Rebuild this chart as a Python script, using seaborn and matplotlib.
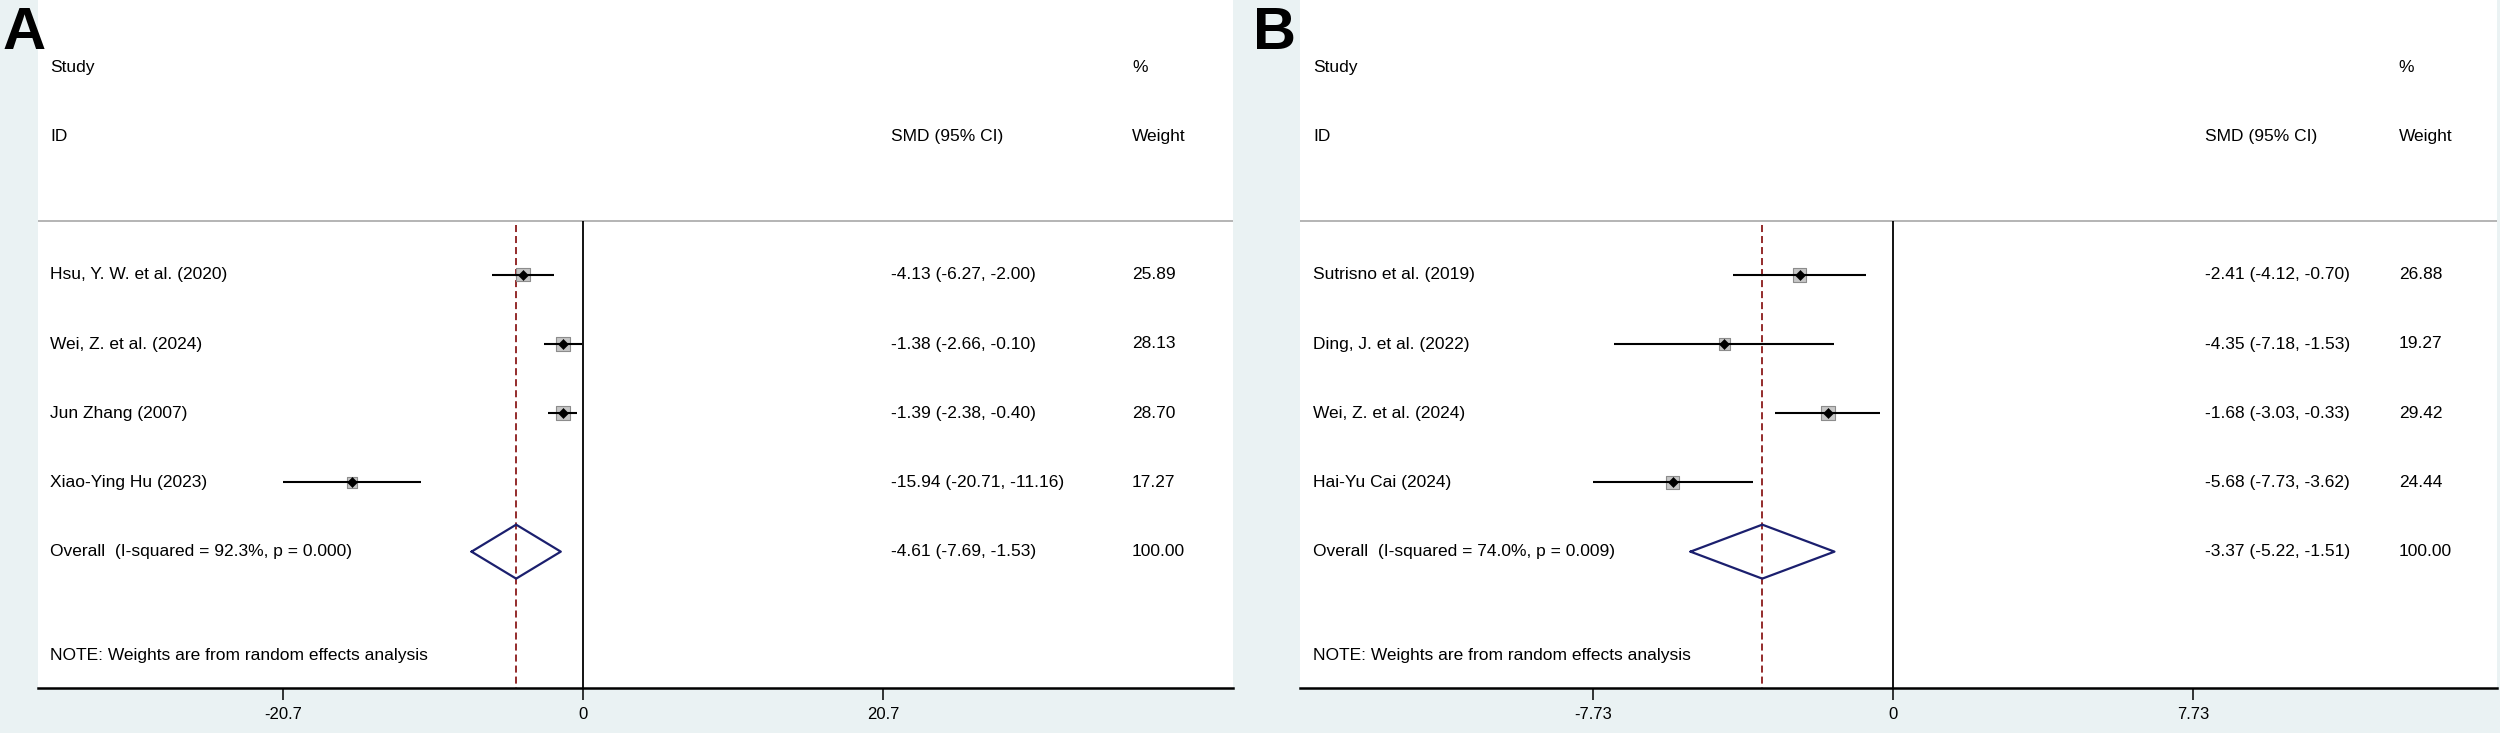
import matplotlib.pyplot as plt
import matplotlib.transforms as mtransforms
import numpy as np
import pandas as pd
import seaborn as sns

# panel A
studies_a = ["Hsu, Y. W. et al. (2020)", "Wei, Z. et al. (2024)",
             "Jun Zhang (2007)", "Xiao-Ying Hu (2023)"]
smd_a = [-4.13, -1.38, -1.39, -15.94]
lo_a = [-6.27, -2.66, -2.38, -20.71]
hi_a = [-2.00, -0.10, -0.40, -11.16]
weight_a = [25.89, 28.13, 28.70, 17.27]
overall_a = [-4.61, -7.69, -1.53]
overall_label_a = "Overall  (I-squared = 92.3%, p = 0.000)"
ticks_a = [-20.7, 0, 20.7]
ticklabels_a = ["-20.7", "0", "20.7"]

# panel B
studies_b = ["Sutrisno et al. (2019)", "Ding, J. et al. (2022)",
             "Wei, Z. et al. (2024)", "Hai-Yu Cai (2024)"]
smd_b = [-2.41, -4.35, -1.68, -5.68]
lo_b = [-4.12, -7.18, -3.03, -7.73]
hi_b = [-0.70, -1.53, -0.33, -3.62]
weight_b = [26.88, 19.27, 29.42, 24.44]
overall_b = [-3.37, -5.22, -1.51]
overall_label_b = "Overall  (I-squared = 74.0%, p = 0.009)"
ticks_b = [-7.73, 0, 7.73]
ticklabels_b = ["-7.73", "0", "7.73"]

note = "NOTE: Weights are from random effects analysis"

sns.set_theme(style="white")
plt.rcParams["font.family"] = ["Liberation Sans", "DejaVu Sans"]

BG = "#EAF2F3"
FS = 12.5
SEP = -0.77
YBOT, YTOP = 5.97, -3.97


def fmt_ci(e, l, h):
    return f"{e:.2f} ({l:.2f}, {h:.2f})"


def draw_panel(ax, studies, smd, lo, hi, weight, overall, overall_label,
               ticks, ticklabels, xlim, cols):
    df = pd.DataFrame({"study": studies, "smd": smd, "lo": lo, "hi": hi,
                       "weight": weight, "row": np.arange(len(studies))})
    n = len(studies)

    # lignes de référence
    ax.axhline(SEP, color="#a0a0a0", lw=1.1, zorder=1)
    ax.vlines(0, SEP, YBOT, color="black", lw=1.3, zorder=1)
    ax.vlines(overall[0], SEP + 0.05, YBOT, color="#8b1a1a", lw=1.3,
              linestyles=(0, (3.9, 2.2)), zorder=1)

    # études : boîte pondérée + IC + point
    sns.scatterplot(data=df, x="smd", y="row", size="weight", sizes=(0, 350),
                    size_norm=(0, 100), marker="s", color="#c6c6c6",
                    edgecolor="#8c8c8c", linewidth=0.8, legend=False, ax=ax,
                    zorder=2)
    ax.hlines(df["row"], df["lo"], df["hi"], color="black", lw=1.5, zorder=3)
    sns.scatterplot(data=df, x="smd", y="row", marker="D", s=26,
                    color="black", edgecolor="black", legend=False, ax=ax,
                    zorder=4)

    # losange global
    est, olo, ohi = overall
    ax.plot([olo, est, ohi, est, olo], [n, n - 0.39, n, n + 0.39, n],
            color="#1b1f6e", lw=1.6, zorder=4)

    # colonnes de texte
    tr = mtransforms.blended_transform_factory(ax.transAxes, ax.transData)
    c_id, c_ci, c_w = cols
    kw = dict(transform=tr, va="center", ha="left", fontsize=FS, color="black")
    ax.text(c_id, -3, "Study", **kw)
    ax.text(c_id, -2, "ID", **kw)
    ax.text(c_ci, -2, "SMD (95% CI)", **kw)
    ax.text(c_w, -3, "%", **kw)
    ax.text(c_w, -2, "Weight", **kw)
    for r in df.itertuples():
        ax.text(c_id, r.row, r.study, **kw)
        ax.text(c_ci, r.row, fmt_ci(r.smd, r.lo, r.hi), **kw)
        ax.text(c_w, r.row, f"{r.weight:.2f}", **kw)
    ax.text(c_id, n, overall_label, **kw)
    ax.text(c_ci, n, fmt_ci(est, olo, ohi), **kw)
    ax.text(c_w, n, "100.00", **kw)
    ax.text(c_id, 5.5, note, **kw)

    ax.set_xlim(xlim)
    ax.set_ylim(YBOT, YTOP)
    ax.set_facecolor("white")
    for s in ["top", "left", "right"]:
        ax.spines[s].set_visible(False)
    ax.spines["bottom"].set_linewidth(1.8)
    ax.spines["bottom"].set_color("black")
    ax.set_yticks([])
    ax.set_xticks(ticks)
    ax.set_xticklabels(ticklabels, fontsize=12)
    ax.tick_params(axis="x", direction="out", length=8.5, width=1.1,
                   color="black", labelcolor="black", pad=5, bottom=True)
    ax.set_xlabel("")
    ax.set_ylabel("")


fig = plt.figure(figsize=(25, 7.33), dpi=100, facecolor=BG)
H = 733
ax_a = fig.add_axes([38 / 2500, (H - 688) / H, 1195 / 2500, 688 / H])
ax_b = fig.add_axes([1300 / 2500, (H - 688) / H, 1197 / 2500, 688 / H])

draw_panel(ax_a, studies_a, smd_a, lo_a, hi_a, weight_a, overall_a,
           overall_label_a, ticks_a, ticklabels_a, (-37.6, 44.85),
           (0.010, 0.714, 0.9155))
draw_panel(ax_b, studies_b, smd_b, lo_b, hi_b, weight_b, overall_b,
           overall_label_b, ticks_b, ticklabels_b, (-15.28, 15.56),
           (0.011, 0.756, 0.918))

fig.text(3 / 2500, 1 - 6 / H, "A", fontsize=43, fontweight="bold",
         color="black", va="top", ha="left")
fig.text(1253 / 2500, 1 - 6 / H, "B", fontsize=43, fontweight="bold",
         color="black", va="top", ha="left")

fig.savefig("out.png", dpi=100, facecolor=BG)
